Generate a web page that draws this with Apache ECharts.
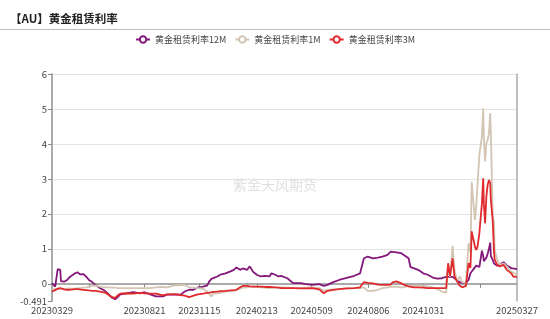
<!DOCTYPE html>
<html><head><meta charset="utf-8">
<script src="https://cdn.jsdelivr.net/npm/echarts@6/dist/echarts.min.js"></script>
<style>html,body{margin:0;padding:0;background:#fff}#c{width:550px;height:319px}</style>
</head><body><div id="c"></div>
<script>
const dates = ['20230329','20230403','20230406','20230407','20230411','20230412','20230417','20230421','20230425','20230428',
'20230504','20230508','20230512','20230517','20230522','20230526','20230531','20230605','20230612','20230620',
'20230626','20230630','20230706','20230710','20230714','20230724','20230803','20230814','20230821','20230830',
'20230908','20230919','20230925','20231009','20231017','20231023','20231030','20231106','20231113','20231121',
'20231127','20231201','20231204','20231207','20231213','20231218','20231226','20240102','20240108','20240112',
'20240118','20240122','20240129','20240202','20240207','20240213','20240219','20240226','20240304','20240307',
'20240313','20240318','20240322','20240401','20240403','20240410','20240422','20240430','20240510','20240521',
'20240528','20240603','20240612','20240621','20240703','20240715','20240724','20240726','20240730','20240805',
'20240813','20240821','20240828','20240905','20240910','20240913','20240919','20240926','20240930','20241008',
'20241011','20241016','20241023','20241031','20241107','20241115','20241122','20241129','20241206','20241209',
'20241212','20241216','20241219','20241223','20241227','20241231','20250106','20250110','20250113','20250115',
'20250117','20250120','20250122','20250124','20250127','20250129','20250131','20250202','20250203','20250205',
'20250207','20250209','20250211','20250213','20250214','20250217','20250219','20250220','20250224','20250228',
'20250306','20250311','20250318','20250321','20250327'];
const rate12M = [0.02,-0.08,0.3,0.42,0.4,0.08,0.06,0.1,0.18,0.2,
0.3,0.33,0.27,0.28,0.2,0.11,0.05,-0.03,-0.12,-0.2,
-0.3,-0.38,-0.44,-0.38,-0.3,-0.27,-0.24,-0.27,-0.24,-0.3,
-0.36,-0.36,-0.31,-0.3,-0.31,-0.22,-0.17,-0.17,-0.1,-0.08,
-0.05,0.08,0.14,0.16,0.21,0.26,0.3,0.35,0.4,0.47,
0.4,0.44,0.4,0.5,0.35,0.26,0.21,0.23,0.21,0.3,
0.26,0.21,0.23,0.16,0.14,0.02,0.02,-0.01,-0.03,-0.01,
-0.06,-0.03,0.05,0.11,0.17,0.23,0.3,0.35,0.73,0.78,
0.73,0.75,0.78,0.83,0.92,0.97,0.9,0.88,0.83,0.73,
0.48,0.45,0.4,0.3,0.26,0.18,0.15,0.16,0.2,0.2,
0.2,0.2,0.18,0.1,0.05,0.03,0.03,0.11,0.3,0.35,
0.4,0.45,0.52,0.52,0.48,0.47,0.95,0.8,0.65,0.7,
0.75,0.86,1.0,1.18,0.8,0.68,0.58,0.55,0.52,0.55,
0.62,0.52,0.45,0.4,0.42];
const rate1M = [-0.15,-0.15,-0.14,-0.14,-0.15,-0.15,-0.14,-0.14,-0.14,-0.13,
-0.13,-0.12,-0.12,-0.11,-0.1,-0.08,-0.06,-0.05,-0.08,-0.1,
-0.1,-0.11,-0.11,-0.12,-0.12,-0.12,-0.12,-0.12,-0.12,-0.12,
-0.1,-0.09,-0.1,-0.04,-0.04,-0.03,-0.1,-0.11,-0.12,-0.14,
-0.22,-0.3,-0.36,-0.27,-0.27,-0.26,-0.22,-0.21,-0.2,-0.18,
-0.14,-0.11,-0.1,-0.08,-0.08,-0.09,-0.1,-0.11,-0.12,-0.12,
-0.11,-0.1,-0.1,-0.11,-0.12,-0.12,-0.12,-0.11,-0.1,-0.12,
-0.2,-0.17,-0.16,-0.15,-0.13,-0.12,-0.12,-0.12,-0.1,-0.2,
-0.2,-0.17,-0.12,-0.1,-0.09,-0.08,-0.08,-0.1,-0.1,-0.06,
-0.05,-0.05,-0.05,-0.05,-0.07,-0.1,-0.15,-0.22,-0.25,0.54,
0.2,1.09,0.4,0.07,0.21,0.05,0.03,1.16,0.9,2.92,
2.97,1.83,2.21,2.17,3.69,3.73,4.21,5.02,4.21,3.5,
4.02,4.11,4.3,4.88,4.3,1.92,1.73,0.97,0.69,0.54,
0.58,0.5,0.35,0.3,0.26];
const rate3M = [-0.22,-0.18,-0.16,-0.14,-0.12,-0.13,-0.16,-0.17,-0.17,-0.16,
-0.15,-0.15,-0.16,-0.17,-0.18,-0.19,-0.2,-0.2,-0.22,-0.25,
-0.32,-0.37,-0.4,-0.33,-0.28,-0.27,-0.28,-0.26,-0.27,-0.28,
-0.28,-0.33,-0.3,-0.3,-0.32,-0.34,-0.38,-0.34,-0.3,-0.28,
-0.26,-0.25,-0.24,-0.23,-0.22,-0.21,-0.2,-0.19,-0.18,-0.17,
-0.1,-0.06,-0.06,-0.07,-0.08,-0.08,-0.08,-0.09,-0.09,-0.1,
-0.1,-0.11,-0.12,-0.12,-0.12,-0.12,-0.13,-0.13,-0.12,-0.16,
-0.27,-0.2,-0.17,-0.15,-0.13,-0.12,-0.1,-0.08,0.05,0.03,
0.01,-0.02,-0.03,-0.03,-0.02,0.04,0.07,0.02,-0.02,-0.07,
-0.09,-0.1,-0.1,-0.11,-0.12,-0.12,-0.12,-0.12,-0.12,0.59,
0.22,0.73,0.21,0.07,-0.05,-0.1,-0.06,0.59,0.45,1.5,
1.45,1.07,0.97,1.05,1.45,1.5,2.3,3.02,2.3,1.73,
2.5,2.83,2.97,2.88,2.4,1.8,0.9,0.69,0.54,0.5,
0.54,0.4,0.3,0.21,0.2];
const seriesNames = ['黄金租赁利率12M','黄金租赁利率1M','黄金租赁利率3M'];
const xLabelDates = ['20230329','20230821','20231115','20240213','20240509','20240806','20241031','20250327'];
const xTickDates = ['20230526','20230821','20231115','20240213','20240509','20240806','20241031','20250128'];
const yMin = -0.491, yMax = 6;

function toTime(s){return new Date(+s.slice(0,4), +s.slice(4,6)-1, +s.slice(6,8)).getTime();}
function fmt(t){const d=new Date(t);return ''+d.getFullYear()+String(d.getMonth()+1).padStart(2,'0')+String(d.getDate()).padStart(2,'0');}
function pairs(vals){return dates.map((d,i)=>[toTime(d),vals[i]]);}

const FONT = '"Noto Sans CJK SC", "Noto Sans", sans-serif';
const colors = ['#83177a','#d3c5b3','#e02a2d'];
const xMin = toTime(dates[0]), xMax = toTime(dates[dates.length-1]);

const chart = echarts.init(document.getElementById('c'), null, {renderer:'canvas'});
chart.setOption({
  animation:false,
  color: colors,
  textStyle:{fontFamily:FONT},
  title:{text:'【AU】黄金租赁利率', left:5, top:8, textStyle:{fontSize:11.5, fontWeight:'bold', color:'#222', fontFamily:FONT}},
  graphic:[
    {type:'line', shape:{x1:0,y1:29.5,x2:550,y2:29.5}, style:{stroke:'#bdbdbd', lineWidth:1}},
    {type:'text', left:'center', top:178, style:{text:'紫金天风期货', fill:'#e0e0e0', fontSize:14, fontFamily:FONT}}
  ],
  legend:{top:30, left:'center', itemWidth:14, itemHeight:8, itemGap:8, textStyle:{fontSize:9, color:'#444', fontFamily:FONT},
    data: seriesNames},
  grid:{left:52, right:33, top:74, bottom:18, containLabel:false},
  xAxis:[
    {type:'value', min:xMin, max:xMax, position:'bottom', scale:true,
      axisLine:{show:false, onZero:false}, axisTick:{show:false}, splitLine:{show:false},
      axisLabel:{customValues: xLabelDates.map(toTime), formatter:v=>fmt(v), fontSize:9.5, color:'#444', margin:5, fontFamily:FONT, hideOverlap:false}},
    {type:'value', min:xMin, max:xMax, position:'bottom', scale:true,
      axisLine:{show:true, onZero:true, lineStyle:{color:'#aaaaaa', width:2}},
      axisTick:{show:true, customValues: xTickDates.map(toTime), length:4, lineStyle:{color:'#888'}},
      axisLabel:{show:false}, splitLine:{show:false}}
  ],
  yAxis:[
    {type:'value', min:yMin, max:yMax,
      axisLine:{show:true, lineStyle:{color:'#aaaaaa', width:2}},
      axisTick:{show:true, length:4, lineStyle:{color:'#888'}},
      axisLabel:{fontSize:9.5, color:'#444', margin:5, fontFamily:FONT},
      splitLine:{show:true, showMinLine:false, lineStyle:{color:'#e3e3e3', width:1}}},
    {type:'value', min:yMin, max:yMax, position:'right',
      axisLine:{show:true, lineStyle:{color:'#aaaaaa', width:1.5}},
      axisTick:{show:false}, axisLabel:{show:false}, splitLine:{show:false}}
  ],
  series: [rate12M, rate1M, rate3M].map((vals,i)=>({
    name: seriesNames[i], type:'line', data: pairs(vals), xAxisIndex:0, yAxisIndex:0,
    symbol:'emptyCircle', symbolSize:5, showSymbol:false,
    lineStyle:{width:1.8, color:colors[i]}, itemStyle:{color:colors[i]}
  }))
});
</script></body></html>
